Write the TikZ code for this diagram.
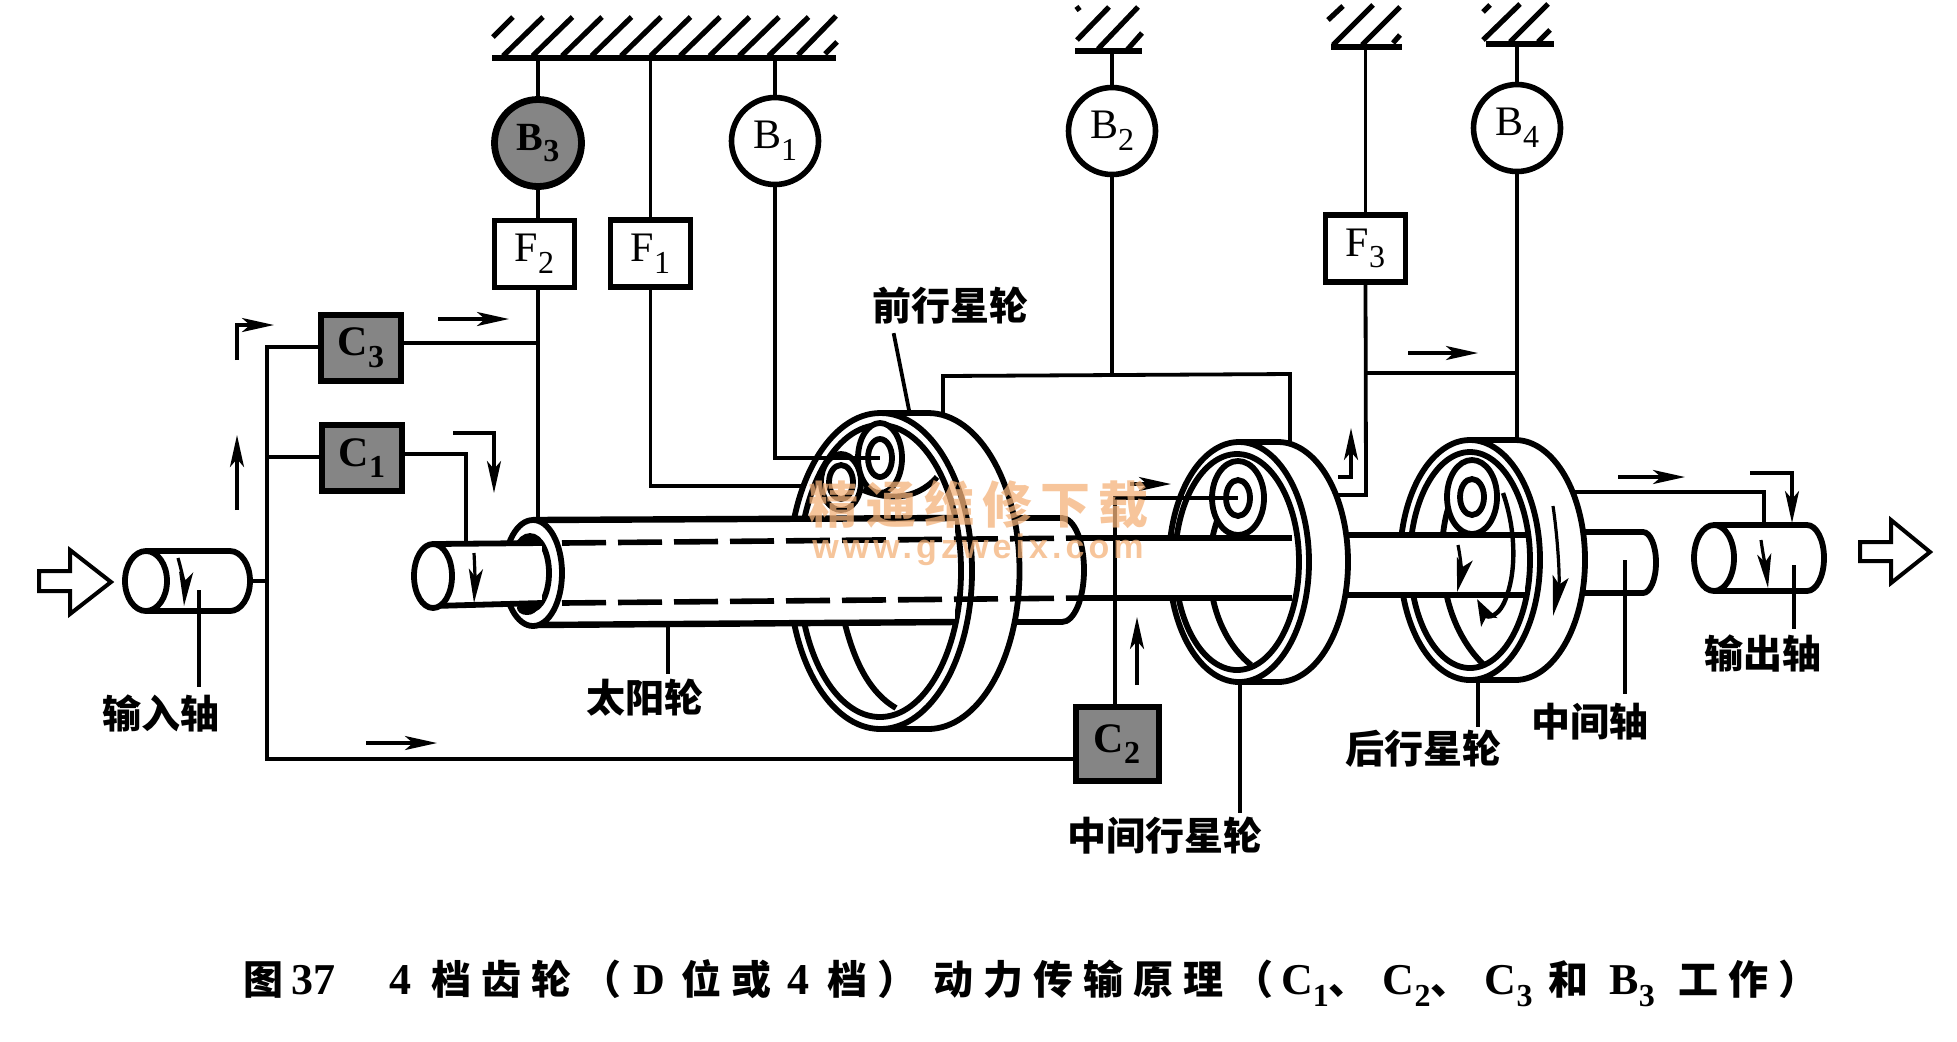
\documentclass[tikz,border=0pt]{standalone}
\usepackage{fontspec}
\usetikzlibrary{arrows.meta}
\setmainfont{Liberation Serif}
\setsansfont{Liberation Sans}
\newfontfamily\cjk{Noto Sans CJK SC}
\newfontfamily\capcjk[LetterSpace=25]{Noto Sans CJK SC}
\newfontfamily\wmcjk[LetterSpace=16]{Noto Sans CJK SC}
\newfontfamily\wmlat[LetterSpace=12]{Liberation Sans}
\definecolor{dither}{gray}{0.52}
\definecolor{wmark}{HTML}{F4B27A}
\newcommand{\sbs}[1]{\raisebox{-0.28em}{\fontsize{16}{16}\selectfont #1}}
\newcommand{\cc}[1]{{\capcjk\fontsize{20}{24}\selectfont #1}}
\newcommand{\wheelbody}[8]{% cx cy rx ry backcx irx iry icx
  \draw[shapeline,fill=white] (#1,{#2-#4}) -- (#5,{#2-#4}) arc[start angle=-90,end angle=90,x radius=#3,y radius=#4] -- (#1,{#2+#4}) -- cycle;
  \draw[shapeline,fill=white] (#1,#2) ellipse[x radius=#3,y radius=#4];
  \draw[shapeline] (#8,#2) ellipse[x radius=#6,y radius=#7];
}
\newcommand{\gearpair}[6]{% cx cy orx ory irx iry
  \draw[shapeline,fill=white] (#1,#2) ellipse[x radius=#3,y radius=#4];
  \draw[shapeline,fill=white] (#1,#2) ellipse[x radius=#5,y radius=#6];
}
\tikzset{
  wire/.style={line width=1.9pt,line cap=rect},
  shapeline/.style={line width=2.9pt},
  arr/.style={line width=1.6pt,-{Stealth[length=16pt,width=7pt,inset=4pt]}},
  ground/.style={line width=3pt},
  hatch/.style={line width=2.6pt},
  boxnode/.style={draw,line width=2.6pt,fill=white,inner sep=0pt,font=\fontsize{21}{22}\selectfont},
  clutch/.style={draw,line width=3pt,fill=dither,inner sep=0pt,font=\bfseries\fontsize{21}{22}\selectfont},
  brake/.style={draw,circle,line width=2.8pt,fill=white,inner sep=0pt,minimum size=43.5pt,font=\fontsize{21}{22}\selectfont},
  lab/.style={inner sep=0pt,font=\cjk\bfseries\fontsize{19.5}{21}\selectfont},
}
\begin{document}
\begin{tikzpicture}[x=0.5pt,y=-0.5pt]
\useasboundingbox (0,0) rectangle (1957,1041);
% --- nodes of the control part
\node[brake,fill=dither,line width=3.4pt,font=\bfseries\fontsize{20}{22}\selectfont] (B3) at (538,143) {B\sbs{3}};
\node[brake] (B1) at (775,141) {B\sbs{1}};
\node[brake] (B2) at (1112,131) {B\sbs{2}};
\node[brake] (B4) at (1517,128) {B\sbs{4}};
\node[boxnode,minimum width=40pt,minimum height=33.5pt] (F2) at (534.5,254) {F\sbs{2}};
\node[boxnode,minimum width=40pt,minimum height=33.5pt] (F1) at (650.5,253.5) {F\sbs{1}};
\node[boxnode,minimum width=40pt,minimum height=33.5pt] (F3) at (1365.5,248.5) {F\sbs{3}};
\node[clutch,minimum width=40pt,minimum height=33pt] (C3) at (361,348) {C\sbs{3}};
\node[clutch,minimum width=40pt,minimum height=33pt] (C1) at (362,458) {C\sbs{1}};
\node[clutch,minimum width=41.5pt,minimum height=37pt] (C2) at (1117,744) {C\sbs{2}};
% --- grounds
\coordinate (g1L) at (492,58); \coordinate (g1R) at (836,58);
\coordinate (g2L) at (1075,51); \coordinate (g2R) at (1142,51);
\coordinate (g3L) at (1331,47); \coordinate (g3R) at (1402,47);
\coordinate (g4L) at (1486,44); \coordinate (g4R) at (1554,44);
\draw[ground] (g1L) -- (g1R);
\draw[ground] (g2L) -- (g2R);
\draw[ground] (g3L) -- (g3R);
\draw[ground] (g4L) -- (g4R);
\draw[hatch] (493,37) -- (513,17);
\foreach \k in {0,...,9} { \draw[hatch] ({503+29.5*\k},56) -- ({543+29.5*\k},17); }
\draw[hatch] (798,55) -- (836,16);
\draw[hatch] (825,54) -- (837,42);
\draw[hatch] (1077,40) -- (1109,7);
\draw[hatch] (1098,49) -- (1138,7);
\draw[hatch] (1127,50) -- (1142,33);
\draw[hatch] (1076,10) -- (1080,7);
\draw[hatch] (1328,20) -- (1343,6);
\draw[hatch] (1333,45) -- (1373,5);
\draw[hatch] (1362,45) -- (1400,7);
\draw[hatch] (1393,43) -- (1400,35);
\draw[hatch] (1483,12) -- (1490,5);
\draw[hatch] (1483,40) -- (1520,4);
\draw[hatch] (1510,42) -- (1548,4);
\draw[hatch] (1538,42) -- (1550,30);
% --- wires behind the wheels
\coordinate (f1c) at (651,486); \coordinate (f1e) at (810,486);
\coordinate (frA) at (943,413); \coordinate (frB) at (943,376); \coordinate (frC) at (1290,374); \coordinate (frD) at (1290,446);
\coordinate (b2f) at (1112,375);
\coordinate (ldF) at (894,335); \coordinate (ldFe) at (910,415);
\coordinate (b4w) at (1517,442);
\draw[wire] (F1.south) -- (F1.south |- f1c) -- (f1e);
\draw[wire] (frA) -- (frB) -- (frC) -- (frD);
\draw[wire] (ldF) -- (ldFe);
\draw[wire] (B4.south) -- (b4w);
% --- rest of the upper wires
\draw[wire] (B3.north) -- (B3.north |- g1L);
\draw[wire] (F1.north) -- (F1.north |- g1L);
\draw[wire] (B1.north) -- (B1.north |- g1L);
\draw[wire] (B2.north) -- (B2.north |- g2L);
\draw[wire] (B4.north) -- (B4.north |- g4L);
\draw[wire] (F3.north) -- (F3.north |- g3L);
\draw[wire] (B3.south) -- (B3.south |- F2.north);
\draw[wire] (B2.south) -- (b2f);
% --- sleeve piece right of the front wheel
\draw[shapeline,fill=white] (1000,518) -- (1062,518) arc[start angle=-90,end angle=90,x radius=22,y radius=52] -- (1000,622);
% --- front wheel
\wheelbody{880.5}{571}{91.5}{158}{928}{81}{146}{880}
\draw[shapeline] (838,590) .. controls (848,650) and (865,690) .. (896,708);
\draw[shapeline] (863,490) .. controls (885,499) and (915,502) .. (937,477);
\gearpair{841}{482}{20}{28}{12}{17}
\gearpair{880}{458}{22}{35}{12}{19}
% --- sleeve over the front wheel
\fill[white] (533,520) rectangle (955,622);
\draw[shapeline,line width=3.2pt] (533,520) -- (955,518);
\draw[shapeline,line width=3.2pt] (533,625) -- (955,622);
\coordinate (gearUp) at (878,458);
\draw[wire] (B1.south) -- (B1.south |- gearUp) -- (gearUp);
% --- dashed shaft inside sleeve
\coordinate (dTs) at (562,543); \coordinate (dTe) at (1084,538);
\coordinate (dBs) at (562,603); \coordinate (dBe) at (1084,598);
\draw[line width=2.8pt,dash pattern=on 22pt off 6pt] (dTs) -- (dTe);
\draw[line width=2.8pt,dash pattern=on 22pt off 6pt] (dBs) -- (dBe);
% --- sun gear flange at left end of sleeve
\draw[shapeline,fill=white] (533,573) ellipse[x radius=29,y radius=53];
\draw[shapeline,fill=white] (530,573) ellipse[x radius=19,y radius=37];
\fill (529,543) ellipse[x radius=10,y radius=6];
\fill (527,608) ellipse[x radius=10,y radius=7];
% --- C1 shaft
\fill[white] (433,544) rectangle (542,605);
\draw[shapeline] (433,544) -- (542,543);
\draw[shapeline] (433,606) -- (542,603);
\draw[shapeline,fill=white] (433,576) ellipse[x radius=19,y radius=32];
% --- shaft right of sleeve, middle wheel
\wheelbody{1239}{562}{70}{120}{1278}{62}{108}{1237}
\draw[shapeline] (1220,513) .. controls (1200,560) and (1208,630) .. (1251,665);
\gearpair{1238}{498}{26}{37}{12}{18}
\fill[white] (1165,538) rectangle (1292,598);
\draw[shapeline] (1084,538) -- (1292,538);
\draw[shapeline] (1084,598) -- (1292,598);
% --- rear wheel and stub
\draw[shapeline,fill=white] (1570,532) -- (1643,532) arc[start angle=-90,end angle=90,x radius=13,y radius=30.5] -- (1570,593);
\wheelbody{1470}{560}{70}{120}{1515}{60}{108}{1470}
\draw[shapeline] (1451,500) .. controls (1435,540) and (1437,620) .. (1484,665);
\gearpair{1472}{497}{25}{37}{12}{18}
\fill[white] (1395,535) rectangle (1525,595);
\draw[shapeline] (1346,535) -- (1526,535);
\draw[shapeline] (1346,595) -- (1526,595);
\draw[shapeline,line width=2.2pt] (1503,493) .. controls (1516,530) and (1516,570) .. (1507,595);
\draw[line width=2.2pt,-{Stealth[length=13pt,width=9pt,inset=3pt]}] (1507,595) .. controls (1500,618) and (1487,618) .. (1477,599);
\draw[line width=1.6pt,-{Stealth[length=17pt,width=8pt,inset=4pt]}] (1458,545) .. controls (1462,565) and (1461,575) .. (1457,592);
\draw[line width=1.6pt,-{Stealth[length=20pt,width=8pt,inset=4pt]}] (1553,506) .. controls (1558,540) and (1560,580) .. (1553,616);
% --- connectors with the clutches
\coordinate (inOut) at (250,581); \coordinate (inJ) at (267,581);
\coordinate (trTop) at (267,347); \coordinate (trC1) at (267,457); \coordinate (trBot) at (267,759);
\coordinate (sunTop) at (538,520); \coordinate (c3j) at (538,343);
\coordinate (c1a) at (466,454); \coordinate (c1b) at (466,543);
\draw[wire] (inOut) -- (inJ);
\draw[wire] (C3.west |- trTop) -- (trTop) -- (trBot) -- (trBot -| C2.west);
\draw[wire] (trC1) -- (trC1 -| C1.west);
\draw[wire] (C3.east |- c3j) -- (c3j);
\draw[wire] (F2.south -| c3j) -- (sunTop);
\draw[wire] (C1.east |- c1a) -- (c1a) -- (c1b);
\coordinate (c2t) at (1115,498); \coordinate (gearMid) at (1236,498);
\draw[wire] (C2.north -| c2t) -- (c2t) -- (gearMid);
\coordinate (f3b) at (1366,495); \coordinate (f3e) at (1337,495);
\coordinate (f3j) at (1367,373); \coordinate (b4j) at (1517,373);
\draw[wire] (F3.south) -- (f3b) -- (f3e);
\draw[wire] (f3j) -- (b4j);
% --- output line
\coordinate (oA) at (1574,492); \coordinate (oB) at (1764,492); \coordinate (oC) at (1764,525);
\draw[wire] (oA) -- (oB) -- (oC);
% --- input and output shafts
\draw[shapeline,fill=white] (146,551) -- (230,551) arc[start angle=-90,end angle=90,x radius=20,y radius=30] -- (146,611);
\draw[shapeline,fill=white] (146,581) ellipse[x radius=21,y radius=30];
\draw[shapeline,fill=white] (1714,525) -- (1807,525) arc[start angle=-90,end angle=90,x radius=17,y radius=33] -- (1714,591);
\draw[shapeline,fill=white] (1714,558) ellipse[x radius=20,y radius=33];
% --- block arrows
\draw[line width=2pt,fill=white,line join=miter] (39,571) -- (70,571) -- (70,550) -- (111,582) -- (70,614) -- (70,591) -- (39,591) -- cycle;
\draw[line width=2pt,fill=white,line join=miter] (1860,542) -- (1891,542) -- (1891,520) -- (1930,552) -- (1891,583) -- (1891,561) -- (1860,561) -- cycle;
% --- flow arrows
\draw[arr] (237,360) -- (237,325) -- (274,325);
\draw[arr] (237,510) -- (237,435);
\draw[arr] (438,319) -- (509,319);
\draw[arr] (453,433) -- (494,433) -- (494,493);
\draw[arr] (366,743) -- (437,743);
\draw[arr] (1130,484) -- (1171,484);
\draw[arr] (1137,685) -- (1137,617);
\draw[arr] (1338,477) -- (1351,477) -- (1351,428);
\draw[arr] (1408,353) -- (1478,353);
\draw[arr] (1618,477) -- (1685,477);
\draw[arr] (1750,473) -- (1792,473) -- (1792,523);
\draw[line width=1.6pt,-{Stealth[length=17pt,width=7pt,inset=4pt]}] (178,558) .. controls (183,575) and (185,590) .. (184,606);
\draw[line width=1.6pt,-{Stealth[length=17pt,width=7pt,inset=4pt]}] (474,553) .. controls (475,570) and (475,585) .. (474,603);
\draw[line width=1.6pt,-{Stealth[length=17pt,width=7pt,inset=4pt]}] (1761,540) .. controls (1763,555) and (1766,570) .. (1768,588);
% --- leader lines and their labels
\node[lab] (in) at (161,713) {输入轴};
\node[lab] (sun) at (645,698) {太阳轮};
\node[lab] (front) at (950,306) {前行星轮};
\node[lab] (mid) at (1165,836) {中间行星轮};
\node[lab] (rear) at (1423,749) {后行星轮};
\node[lab] (inter) at (1590,722) {中间轴};
\node[lab] (out) at (1763,653) {输出轴};
\coordinate (ldIn) at (199,592); \coordinate (ldInE) at (199,685);
\coordinate (ldSun) at (668,627); \coordinate (ldSunE) at (668,672);
\coordinate (ldMid) at (1240,682); \coordinate (ldMidE) at (1240,811);
\coordinate (ldRear) at (1478,680); \coordinate (ldRearE) at (1478,725);
\coordinate (ldInt) at (1625,562); \coordinate (ldIntE) at (1625,692);
\coordinate (ldOut) at (1794,567); \coordinate (ldOutE) at (1794,627);
\draw[wire] (ldIn) -- (ldInE);
\draw[wire] (ldSun) -- (ldSunE);
\draw[wire] (ldMid) -- (ldMidE);
\draw[wire] (ldRear) -- (ldRearE);
\draw[wire] (ldInt) -- (ldIntE);
\draw[wire] (ldOut) -- (ldOutE);
% --- caption
\node[inner sep=0pt,anchor=west,font=\bfseries\fontsize{22}{24}\selectfont] (cap) at (243,983) {\cc{图}\hspace{4pt}37\hspace{27pt}4\hspace{10pt}\cc{档齿轮}\hspace{5pt}\cc{（}\hspace{6pt}D\hspace{8pt}\cc{位或}\hspace{8pt}4\hspace{9pt}\cc{档）}\hspace{8pt}\cc{动力传输原理（}\hspace{4pt}C\sbs{1}\cc{、}\hspace{7pt}C\sbs{2}\cc{、}\hspace{7pt}C\sbs{3}\hspace{8pt}\cc{和}\hspace{10.5pt}B\sbs{3}\hspace{12pt}\cc{工作）}};
% --- watermark
\node[inner sep=0pt,text=wmark,text opacity=0.75,font=\wmcjk\bfseries\fontsize{25}{26}\selectfont] (wm1) at (978,505) {精通维修下载};
\node[inner sep=0pt,text=wmark,text opacity=0.75,font=\wmlat\bfseries\fontsize{17}{18}\selectfont] (wm2) at (978,550) {www.gzweix.com};
\end{tikzpicture}
\end{document}
